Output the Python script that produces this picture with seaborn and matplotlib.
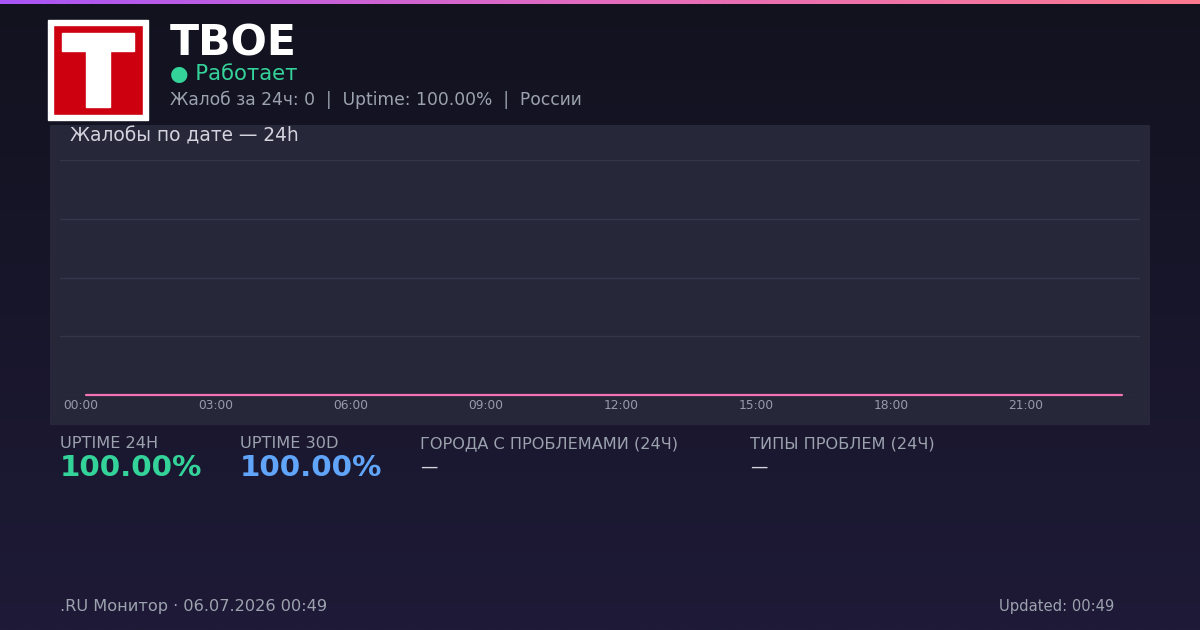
import numpy as np
import pandas as pd
import matplotlib
matplotlib.use("Agg")
import matplotlib.pyplot as plt
from matplotlib.colors import LinearSegmentedColormap
from matplotlib.patches import Rectangle
import seaborn as sns

# ====== Data ======
hours = [0, 1, 2, 3, 4, 5, 6, 7, 8, 9, 10, 11,
         12, 13, 14, 15, 16, 17, 18, 19, 20, 21, 22, 23]
complaints = [0, 0, 0, 0, 0, 0, 0, 0, 0, 0, 0, 0,
              0, 0, 0, 0, 0, 0, 0, 0, 0, 0, 0, 0]
tick_hours = [0, 3, 6, 9, 12, 15, 18, 21]
tick_labels = ["00:00", "03:00", "06:00", "09:00", "12:00", "15:00", "18:00", "21:00"]

service_name = "ТВОЕ"
status_text = "● Работает"
summary_text = "Жалоб за 24ч: 0  |  Uptime: 100.00%  |  России"
chart_title = "Жалобы по дате — 24h"
stat_labels = ["UPTIME 24H", "UPTIME 30D", "ГОРОДА С ПРОБЛЕМАМИ (24Ч)", "ТИПЫ ПРОБЛЕМ (24Ч)"]
stat_values = ["100.00%", "100.00%", "—", "—"]
footer_left = ".RU Монитор · 06.07.2026 00:49"
footer_right = "Updated: 00:49"

df = pd.DataFrame({"hour": hours, "complaints": complaints})

# ====== Style ======
sns.set_theme(style="dark")
plt.rcParams["font.family"] = ["DejaVu Sans"]

W, H = 1200, 630
fig = plt.figure(figsize=(W / 100, H / 100), dpi=100)


def fx(px):
    return px / W


def fy(py):
    return 1 - py / H


# background gradient
bg = fig.add_axes([0, 0, 1, 1], zorder=0)
bg_cmap = LinearSegmentedColormap.from_list("bg", ["#12121f", "#1e1a37"])
bg.imshow(np.linspace(0, 1, 256).reshape(-1, 1), aspect="auto", cmap=bg_cmap,
          extent=[0, 1, 0, 1], origin="upper")
bg.set_axis_off()

# top accent bar
bar = fig.add_axes([0, fy(4), 1, 4 / H], zorder=3)
bar_cmap = LinearSegmentedColormap.from_list("bar", ["#a855f7", "#e46cbf", "#fb7a8e"])
bar.imshow(np.linspace(0, 1, 256).reshape(1, -1), aspect="auto", cmap=bar_cmap,
           extent=[0, 1, 0, 1])
bar.set_axis_off()

# chart panel
fig.patches.append(Rectangle((fx(50), fy(425)), fx(1100), 300 / H,
                             transform=fig.transFigure, facecolor="#262739",
                             edgecolor="none", zorder=1))

# logo
fig.patches.append(Rectangle((fx(48), fy(120)), fx(100), 100 / H,
                             transform=fig.transFigure, facecolor="white", zorder=2))
fig.patches.append(Rectangle((fx(53), fy(115)), fx(90), 90 / H,
                             transform=fig.transFigure, facecolor="#cc000f", zorder=2))
fig.patches.append(Rectangle((fx(62), fy(51)), fx(72), 18 / H,
                             transform=fig.transFigure, facecolor="white", zorder=2))
fig.patches.append(Rectangle((fx(86), fy(107)), fx(24), 56 / H,
                             transform=fig.transFigure, facecolor="white", zorder=2))

# header texts
fig.text(fx(170), fy(43), service_name, color="white", fontsize=30.7,
         fontweight="bold", va="center", ha="left", zorder=4)
fig.text(fx(170), fy(74), status_text, color="#34d399", fontsize=15.3,
         va="center", ha="left", zorder=4)
fig.text(fx(170), fy(100), summary_text, color="#9ca3af", fontsize=12.3,
         va="center", ha="left", zorder=4)

# ====== Chart ======
ax = fig.add_axes([fx(60), fy(395), fx(1080), 235 / H], zorder=3)
ax.set_facecolor("none")
sns.lineplot(data=df, x="hour", y="complaints", ax=ax, color="#f472b6",
             linewidth=1.6, zorder=5)
for ln in ax.lines:
    ln.set_clip_on(False)
ax.set_xlim(-0.58, 23.4)
ax.set_ylim(0, 4)
ax.set_yticks([0, 1, 2, 3, 4])
ax.set_yticklabels([])
# labels sit a few pixels left of the data point
ax.set_xticks([h - 0.13 for h in tick_hours])
ax.set_xticklabels(tick_labels, color="#9a9aae", fontsize=8.8)
ax.tick_params(axis="both", length=0, pad=3)
ax.grid(axis="y", color="#35364a", linewidth=1)
ax.grid(axis="x", visible=False)
ax.set_xlabel("")
ax.set_ylabel("")
for s in ax.spines.values():
    s.set_visible(False)

fig.text(fx(70), fy(136), chart_title, color="#d4d4de", fontsize=13.4,
         va="center", ha="left", zorder=4)

# ====== Stats row ======
stat_x = [60, 240, 420, 750]
stat_colors = ["#34d399", "#60a5fa", "#d4d4de", "#d4d4de"]
for x, lab, val, col in zip(stat_x, stat_labels, stat_values, stat_colors):
    fig.text(fx(x), fy(444), lab, color="#9ca3af", fontsize=11.6,
             va="center", ha="left", zorder=4)
    if val == "—":
        fig.text(fx(x), fy(467), val, color=col, fontsize=12.5,
                 va="center", ha="left", zorder=4)
    else:
        fig.text(fx(x), fy(468), val, color=col, fontsize=21.2,
                 fontweight="bold", va="center", ha="left", zorder=4)

# ====== Footer ======
fig.text(fx(60), fy(607), footer_left, color="#9ca3af", fontsize=11.6,
         va="center", ha="left", zorder=4)
fig.text(fx(1114), fy(607), footer_right, color="#9ca3af", fontsize=10.6,
         va="center", ha="right", zorder=4)

fig.savefig("out.png", dpi=100, facecolor=fig.get_facecolor())
